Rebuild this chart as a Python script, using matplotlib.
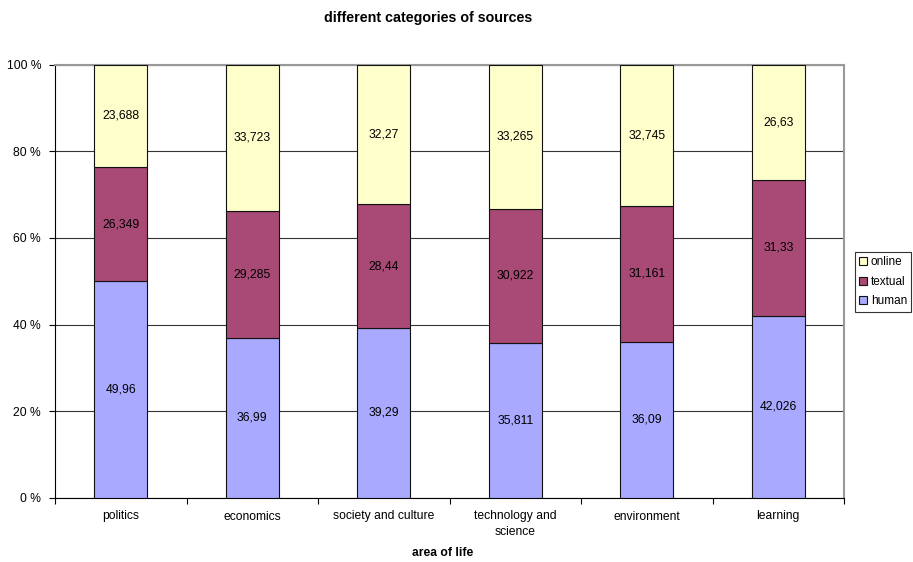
import matplotlib
matplotlib.use("Agg")
import matplotlib.pyplot as plt
import numpy as np

plt.rcParams['font.family'] = ['Liberation Sans', 'DejaVu Sans']

categories = ["politics", "economics", "society and culture",
              "technology and\nscience", "environment", "learning"]
human = [49.96, 36.99, 39.29, 35.811, 36.09, 42.026]
textual = [26.349, 29.285, 28.44, 30.922, 31.161, 31.33]
online = [23.688, 33.723, 32.27, 33.265, 32.745, 26.63]
human_lbl = ["49,96", "36,99", "39,29", "35,811", "36,09", "42,026"]
textual_lbl = ["26,349", "29,285", "28,44", "30,922", "31,161", "31,33"]
online_lbl = ["23,688", "33,723", "32,27", "33,265", "32,745", "26,63"]

series = [("human", human, human_lbl, "#A9A9FF"),
          ("textual", textual, textual_lbl, "#A84A75"),
          ("online", online, online_lbl, "#FFFFCC")]

fig = plt.figure(figsize=(9.13, 5.62), dpi=100)
ax = fig.add_axes([55 / 913, 1 - 498 / 562, (844 - 55) / 913, (498 - 64.5) / 562])

x = np.arange(len(categories))
totals = np.array(human) + np.array(textual) + np.array(online)
bottom = np.zeros(len(categories))
handles = []
for name, vals, lbls, col in series:
    pct = np.array(vals) / totals * 100
    b = ax.bar(x, pct, width=0.40, bottom=bottom, color=col,
               edgecolor="#111111", linewidth=0.8, label=name, zorder=3)
    handles.append(b)
    for xi, bt, h, t in zip(x, bottom, pct, lbls):
        ax.text(xi, bt + h / 2, t, ha="center", va="center", fontsize=8.7, zorder=4)
    bottom += pct

ax.set_xlim(-0.5, len(categories) - 0.5)
ax.set_ylim(0, 100)
ax.set_yticks([0, 20, 40, 60, 80, 100])
ax.set_yticklabels(["0 %", "20 %", "40 %", "60 %", "80 %", "100 %"], fontsize=8.7)
ax.set_xticks(x)
ax.set_xticklabels(categories, fontsize=8.7, linespacing=1.35)
ax.set_xticks(np.arange(-0.5, len(categories)), minor=True)
ax.tick_params(axis="x", which="major", length=0, pad=9)
ax.tick_params(axis="x", which="minor", length=4, width=0.8, direction="out")
ax.tick_params(axis="y", length=4, width=0.8, direction="out", pad=6)
ax.grid(axis="y", color="#333333", linewidth=0.8, zorder=0)

for side in ("top", "right"):
    ax.spines[side].set_color("#999999")
    ax.spines[side].set_linewidth(1.5)
for side in ("left", "bottom"):
    ax.spines[side].set_color("black")
    ax.spines[side].set_linewidth(0.8)

fig.text(443 / 913, 1 - 553 / 562, "area of life",
         ha="center", va="center", fontsize=8.7, fontweight="bold")

fig.text(428 / 913, 1 - 18 / 562, "different categories of sources",
         ha="center", va="center", fontsize=10.3, fontweight="bold")

leg = fig.legend(handles[::-1], ["online", "textual", "human"],
                 loc="upper left", bbox_to_anchor=(855 / 913, 1 - 252 / 562),
                 fontsize=8.5, frameon=True, fancybox=False, edgecolor="black",
                 handlelength=0.7, handleheight=0.7, handletextpad=0.3,
                 borderpad=0.35, labelspacing=0.65, borderaxespad=0)
leg.get_frame().set_linewidth(0.8)

fig.savefig("out.png", dpi=100)
